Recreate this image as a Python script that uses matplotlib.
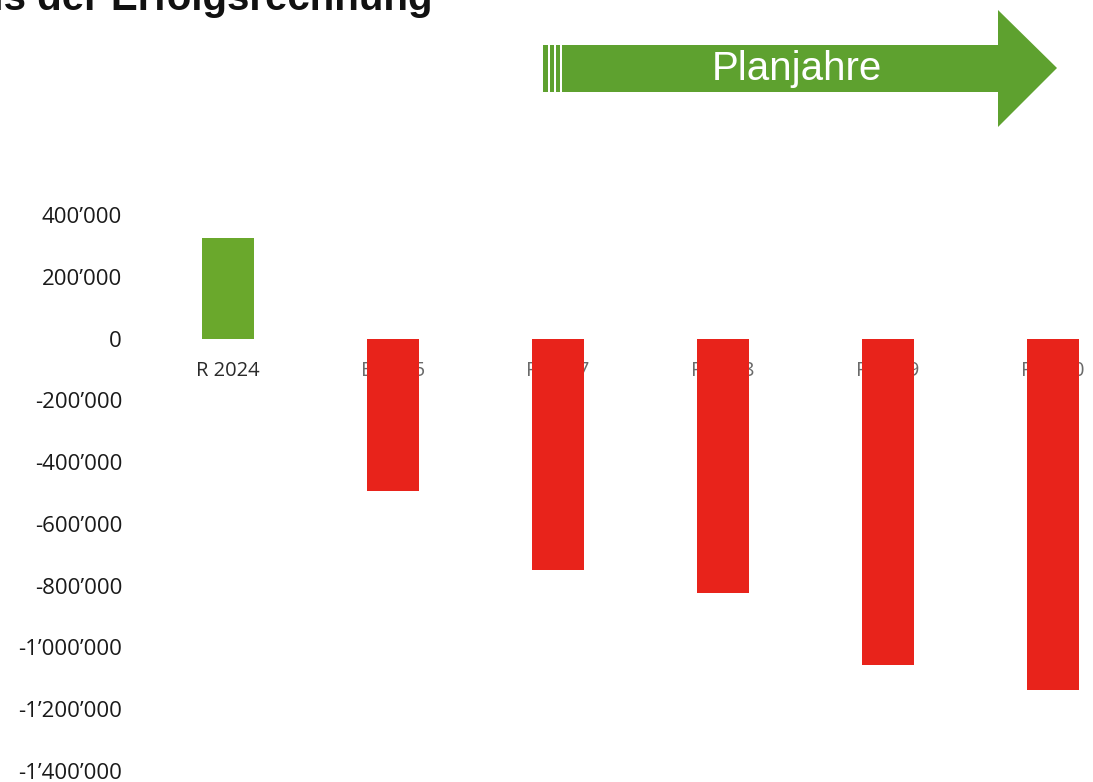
import matplotlib
matplotlib.use("Agg")
import matplotlib.pyplot as plt
from matplotlib.patches import Polygon, Rectangle
from matplotlib.ticker import FuncFormatter

# values (CHF)
categories = ["R 2024", "B 2025", "P 2027", "P 2028", "P 2029", "P 2030"]
values = [327000, -495000, -750000, -823000, -1057000, -1138000]
y_ticks = [400000, 200000, 0, -200000, -400000, -600000, -800000, -1000000, -1200000, -1400000]

GREEN = "#6aa82c"
RED = "#e8231b"
ARROW_GREEN = "#5ea12f"

W, H = 1093, 782
fig = plt.figure(figsize=(W / 100, H / 100), dpi=100)

# main bar chart
ax = fig.add_axes([145 / W, 11 / H, 948 / W, (771 - 215) / H])
x = list(range(len(categories)))
colors = [GREEN if v >= 0 else RED for v in values]
ax.bar(x, values, width=0.315, color=colors, zorder=2)
ax.set_xlim(-0.503, 5.242)
ax.set_ylim(-1400000, 400000)

# category labels sit just under the zero line, behind the red bars
for i, lab in enumerate(categories):
    ax.text(i, -104000, lab, ha="center", va="center", fontsize=14.5,
            family="Open Sans", color="#2a2a2a" if i == 0 else "#6a6a6a", zorder=1)

def fmt(v, pos):
    return f"{int(v):,}".replace(",", "\u2019")

ax.set_yticks(y_ticks)
ax.yaxis.set_major_formatter(FuncFormatter(fmt))
ax.tick_params(axis="y", length=0, pad=16.5, labelsize=16, labelcolor="#1a1a1a")
for t in ax.get_yticklabels():
    t.set_family("Open Sans")
ax.set_xticks([])
for sp in ax.spines.values():
    sp.set_visible(False)

# overlay in pixel coordinates for the banner arrow and cut-off title
ov = fig.add_axes([0, 0, 1, 1], zorder=5)
ov.set_xlim(0, W)
ov.set_ylim(H, 0)
ov.axis("off")
ov.patch.set_alpha(0)

arrow = Polygon([(562, 45), (998, 45), (998, 10), (1057, 68), (998, 127),
                 (998, 92), (562, 92)], closed=True, color=ARROW_GREEN, lw=0)
ov.add_patch(arrow)
for x0, w in [(543, 4.5), (549.5, 4), (556, 4)]:
    ov.add_patch(Rectangle((x0, 45), w, 47, color=ARROW_GREEN, lw=0))
ov.text(797, 69, "Planjahre", ha="center", va="center", color="white",
        fontsize=29, family="Liberation Sans")

fig.text(432 / W, 1 - 10 / H, "Ergebnis der Erfolgsrechnung", ha="right",
         va="baseline", fontsize=29, fontweight="bold", family="Liberation Sans",
         color="#111111")

fig.savefig("out.png", dpi=100)
